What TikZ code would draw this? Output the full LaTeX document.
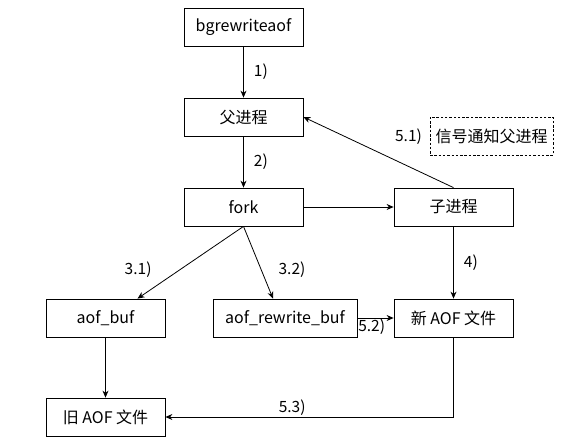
\documentclass[tikz,border=0pt]{standalone}
\usepackage{fontspec}
\setmainfont{Noto Sans CJK SC}
\usetikzlibrary{arrows.meta}

\begin{document}
\begin{tikzpicture}[
  x=1pt, y=-1pt,
  box/.style={draw, inner sep=2pt, minimum width=119pt, minimum height=38pt,
              font=\fontsize{16}{18}\selectfont},
  note/.style={box, dash pattern=on 2.5pt off 1.8pt, minimum width=123pt},
  lab/.style={font=\fontsize{15.5}{18}\selectfont, inner sep=1pt},
  -{Stealth[length=7pt, width=6pt]}, line width=0.8pt
]
\useasboundingbox (0,0) rectangle (585,442);

% ── main chain ───────────────────────────────────────────────────────
\node[box] (bgre)   at (243.5,27)  {bgrewriteaof};
\node[box] (parent) at (243.5,117) {父进程};
\node[box] (fork)   at (243.5,207) {fork};
\node[box] (child)  at (453.5,207) {子进程};
\node[note] (signal) at (491.5,136) {信号通知父进程};

% ── buffers and files ────────────────────────────────────────────────
\node[box] (aofbuf)  at (105.5,318) {aof\_buf};
\node[box, minimum width=144pt] (rewbuf) at (285,318) {aof\_rewrite\_buf};
\node[box] (newaof)  at (453.5,318) {新 AOF 文件};
\node[box] (oldaof)  at (105.5,417) {旧 AOF 文件};

% ── flows ────────────────────────────────────────────────────────────
\draw (bgre) -- node[lab, right=9pt] {1)} (parent);
\draw (parent) -- node[lab, right=9pt] {2)} (fork);
\draw (fork) -- (child);
\draw (child.north) -- node[lab, pos=0.3, above=20pt] {5.1)} (parent.east);
\draw (fork.south) -- node[lab, pos=0.6, left=27pt] {3.1)} ([xshift=32pt]aofbuf.north);
\draw (fork.south) -- node[lab, pos=0.6, right=16pt] {3.2)} ([xshift=-12pt]rewbuf.north);
\draw (child) -- node[lab, right=9pt] {4)} (newaof);
\draw (rewbuf) -- node[lab, at start, anchor=north west, inner sep=0.5pt] {5.2)} (newaof);
\draw (aofbuf) -- (oldaof);
\draw (newaof.south) |- node[lab, pos=0.78, above] {5.3)} (oldaof.east);

\end{tikzpicture}
\end{document}
